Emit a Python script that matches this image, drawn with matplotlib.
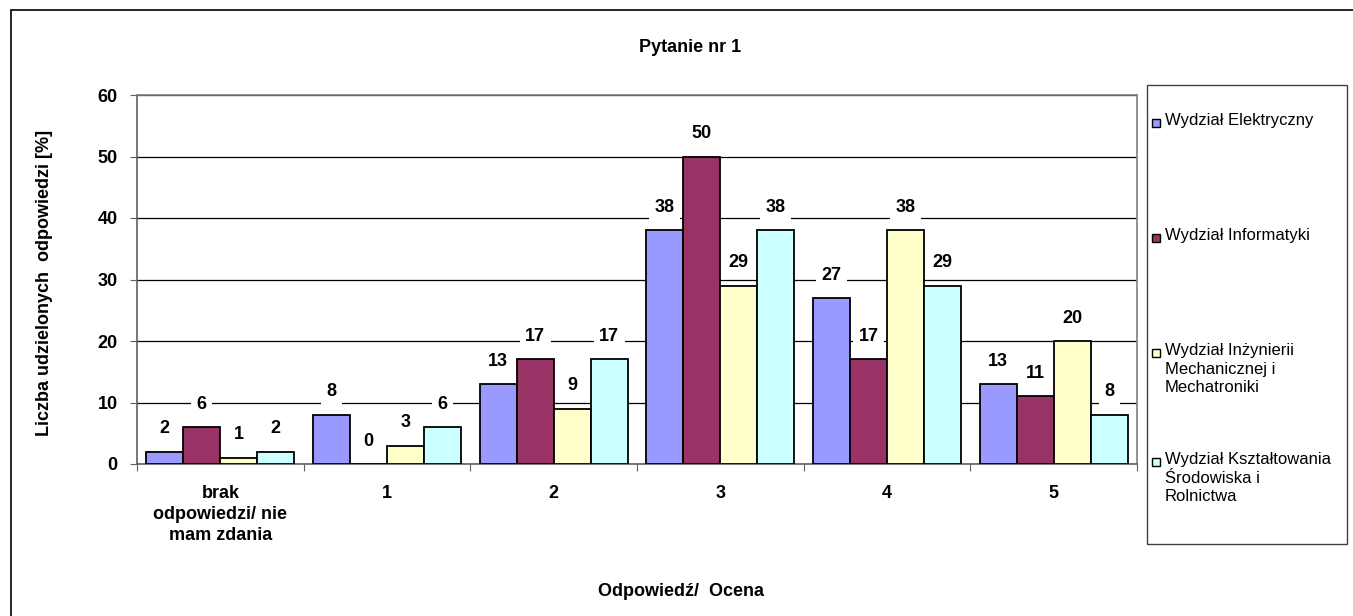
import matplotlib
matplotlib.use("Agg")
import matplotlib.pyplot as plt
import matplotlib.patches as mpatches
import numpy as np

plt.rcParams["font.family"] = ["Liberation Sans", "DejaVu Sans"]

categories = ["brak\nodpowiedzi/ nie\nmam zdania", "1", "2", "3", "4", "5"]
series_names = [
    "Wydział Elektryczny",
    "Wydział Informatyki",
    "Wydział Inżynierii\nMechanicznej i\nMechatroniki",
    "Wydział Kształtowania\nŚrodowiska i\nRolnictwa",
]
elektryczny = [2, 8, 13, 38, 27, 13]
informatyki = [6, 0, 17, 50, 17, 11]
mechaniczny = [1, 3, 9, 29, 38, 20]
ksztaltowania = [2, 6, 17, 38, 29, 8]
colors = ["#9999FF", "#993366", "#FFFFCC", "#CCFFFF"]


def main():
    data = [elektryczny, informatyki, mechaniczny, ksztaltowania]
    fs = 13

    fig = plt.figure(figsize=(13.53, 6.16), dpi=100)
    ax = fig.add_axes([137 / 1353, 152 / 616, 1000 / 1353, 369 / 616])

    # outer chart frame (cut off at right and bottom like the original)
    fig.patches.append(mpatches.Rectangle((11 / 1353, -0.1), 1.2, 1 - 10 / 616 + 0.1,
                                          transform=fig.transFigure, fill=False,
                                          edgecolor="black", lw=1.2))

    x = np.arange(len(categories))
    w = 0.222
    for i, (vals, c) in enumerate(zip(data, colors)):
        pos = x + (i - 1.5) * w
        bars = ax.bar(pos, vals, width=w, color=c, edgecolor="black", lw=1.3, zorder=3)
        for b, v in zip(bars, vals):
            ax.annotate(str(v), (b.get_x() + b.get_width() / 2, v),
                        xytext=(0, 16.5), textcoords="offset points",
                        ha="center", va="center", fontsize=fs, fontweight="bold",
                        zorder=4,
                        bbox=dict(boxstyle="square,pad=0.3", fc="white", ec="none"))

    ax.set_xlim(-0.5, len(categories) - 0.5)
    ax.set_ylim(0, 60)
    ax.set_yticks(range(0, 61, 10))
    ax.yaxis.grid(True, color="black", lw=0.9, zorder=0)
    ax.set_axisbelow(True)

    ax.set_xticks(np.arange(-0.5, len(categories), 1))
    ax.set_xticklabels([])
    ax.set_xticks(x, minor=True)
    ax.set_xticklabels(categories, minor=True, fontsize=fs, fontweight="bold",
                       linespacing=1.3)
    ax.tick_params(axis="x", which="minor", length=0, pad=15)
    ax.tick_params(axis="x", which="major", length=5, color="#606060", direction="out")
    ax.tick_params(axis="y", length=5, color="#606060", pad=9, labelsize=fs)
    for lab in ax.get_yticklabels():
        lab.set_fontweight("bold")
    for lab in ax.get_xticklabels(minor=True):
        lab.set_verticalalignment("top")

    for s in ax.spines.values():
        s.set_color("#808080")
        s.set_linewidth(1.2)
    ax.spines["left"].set_color("#606060")
    ax.spines["bottom"].set_color("#606060")

    fig.text(690 / 1353, 1 - 47 / 616, "Pytanie nr 1", ha="center", va="center",
             fontsize=fs, fontweight="bold")
    fig.text(681 / 1353, 1 - 592 / 616, "Odpowiedź/  Ocena", ha="center", va="center",
             fontsize=fs, fontweight="bold")
    fig.text(45 / 1353, 1 - 283 / 616, "Liczba udzielonych  odpowiedzi [%]",
             ha="center", va="center", rotation=90, fontsize=fs, fontweight="bold")

    # legend box
    fig.patches.append(mpatches.Rectangle((1147 / 1353, 1 - 544 / 616), 200 / 1353, 459 / 616,
                                          transform=fig.transFigure, fill=False,
                                          edgecolor="#404040", lw=1.0))
    legend_y = [123, 238, 353, 462]
    for name, c, ly in zip(series_names, colors, legend_y):
        fig.patches.append(mpatches.Rectangle((1152 / 1353, 1 - (ly + 4) / 616), 8 / 1353, 8 / 616,
                                              transform=fig.transFigure, fc=c,
                                              edgecolor="black", lw=1.0))
        fig.text(1165 / 1353, 1 - (ly - 10) / 616, name, ha="left", va="top",
                 fontsize=12, linespacing=1.3)

    fig.savefig("out.png", dpi=100)


if __name__ == "__main__":
    main()
